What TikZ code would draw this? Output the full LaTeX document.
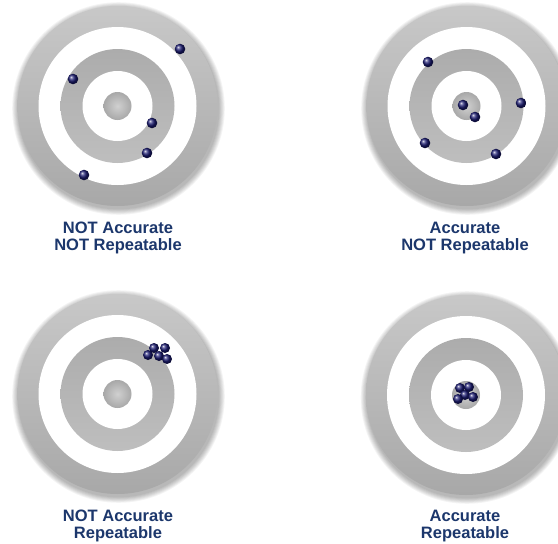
\documentclass[tikz,border=0pt]{standalone}
\usepackage{fontspec}
\setmainfont{Liberation Sans}
\definecolor{labelblue}{RGB}{28,55,108}
\definecolor{dotblue}{RGB}{26,26,112}
\definecolor{ringtop}{RGB}{200,200,200}
\definecolor{ringbot}{RGB}{168,168,168}
\definecolor{innertop}{RGB}{172,172,172}
\definecolor{innerbot}{RGB}{190,190,190}
\definecolor{bullin}{RGB}{208,208,208}
\definecolor{bullout}{RGB}{168,168,168}
\tikzset{
  outerring/.style={top color=ringtop, bottom color=ringbot},
  innerring/.style={top color=innertop, bottom color=innerbot},
  bullring/.style={inner color=bullin, outer color=bullout},
  shot/.style={shading=ball, ball color=dotblue},
  lbl/.style={anchor=base, text=labelblue, font=\bfseries\fontsize{16.5}{15}\selectfont, inner sep=0pt},
  pics/target/.style={code={
    \foreach \k in {1,...,7} {\fill[black, opacity=0.045] (1,2.5) circle ({100+\k*0.9pt});}
    \shade[outerring] (0,0) circle (100pt);
    \fill[white] (0,0) circle (79pt);
    \shade[innerring] (0,0) circle (57pt);
    \fill[white] (0,0) circle (35pt);
    \shade[bullring] (0,0) circle (14pt);
  }}
}
\begin{document}
\begin{tikzpicture}[x=1pt, y=-1pt]
\useasboundingbox (0,0) rectangle (558,544);
\clip (0,0) rectangle (558,544);
\fill[white] (0,0) rectangle (558,544);

% target centres
\coordinate (t1) at (117.5,106);
\coordinate (t2) at (466.5,106);
\coordinate (t3) at (117.5,394);
\coordinate (t4) at (466,395);

\pic at (t1) {target};
\pic at (t2) {target};
\pic at (t3) {target};
\pic at (t4) {target};

% shots: NOT accurate, NOT repeatable
\shade[shot] (180,49) circle (5.3pt);
\shade[shot] (73,79) circle (5.3pt);
\shade[shot] (152,123) circle (5.3pt);
\shade[shot] (147,153) circle (5.3pt);
\shade[shot] (84,175) circle (5.3pt);

% shots: accurate, NOT repeatable
\shade[shot] (428,62) circle (5.3pt);
\shade[shot] (463,105) circle (5.3pt);
\shade[shot] (475,117) circle (5.3pt);
\shade[shot] (521,103) circle (5.3pt);
\shade[shot] (425,143) circle (5.3pt);
\shade[shot] (496,154) circle (5.3pt);

% shots: NOT accurate, repeatable
\shade[shot] (154,348) circle (5pt);
\shade[shot] (165,348) circle (5pt);
\shade[shot] (148,355) circle (5pt);
\shade[shot] (159,356) circle (5pt);
\shade[shot] (167,359) circle (5pt);

% shots: accurate, repeatable
\shade[shot] (460,388) circle (5pt);
\shade[shot] (469,387) circle (5pt);
\shade[shot] (465,395) circle (5pt);
\shade[shot] (458,399) circle (5pt);
\shade[shot] (473,397) circle (5pt);

% labels
\node[lbl] (l1a) at (118,233) {NOT Accurate};
\node[lbl] (l1b) at (118,250) {NOT Repeatable};
\node[lbl] (l2a) at (465,233) {Accurate};
\node[lbl] (l2b) at (465,250) {NOT Repeatable};
\node[lbl] (l3a) at (118,521) {NOT Accurate};
\node[lbl] (l3b) at (118,538) {Repeatable};
\node[lbl] (l4a) at (465,521) {Accurate};
\node[lbl] (l4b) at (465,538) {Repeatable};
\end{tikzpicture}
\end{document}
